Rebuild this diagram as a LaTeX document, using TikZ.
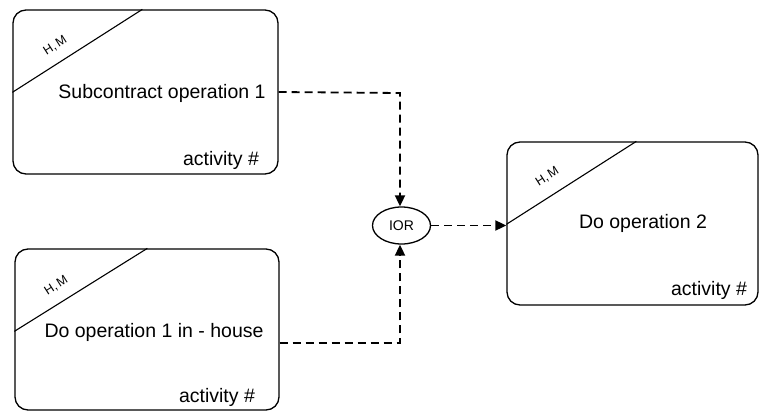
\documentclass[tikz,border=0pt]{standalone}
\usepackage{fontspec}
\setmainfont{Liberation Sans}
\usetikzlibrary{calc,arrows.meta,shapes.geometric}
\begin{document}
\begin{tikzpicture}[x=1pt,y=-1pt,
  actbox/.style={draw,line width=1.3pt,rounded corners=13pt,inner sep=0pt},
  maintext/.style={font=\fontsize{19.5}{21}\selectfont,inner sep=0pt},
  hmtext/.style={font=\fontsize{12.5}{13}\selectfont,inner sep=0pt,rotate=32.6},
  diag/.style={line width=1.1pt},
  flow/.style={line width=1.8pt,dash pattern=on 8pt off 5pt},
  tip/.style={-{Triangle[length=11pt,width=10pt]}}]
\useasboundingbox (0,0) rectangle (760,412);
% boxes
\node[actbox,minimum width=265pt,minimum height=164pt] (b1) at (145.5,92) {};
\node[actbox,minimum width=264pt,minimum height=161pt] (b2) at (147,329.5) {};
\node[actbox,minimum width=251pt,minimum height=163pt] (b3) at (632.5,223.5) {};
% diagonals
\draw[diag] ($(b1.north west)+(0,83)$) -- ($(b1.north west)+(130,0)$);
\draw[diag] ($(b2.north west)+(0,83)$) -- ($(b2.north west)+(133,0)$);
\draw[diag] ($(b3.north west)+(0,83)$) -- ($(b3.north west)+(130,0)$);
% H, M labels
\node[hmtext] (hm1) at ($(b1.north west)+(43,36)$) {H,\kern2pt M};
\node[hmtext] (hm2) at ($(b2.north west)+(42,37)$) {H,\kern2pt M};
\node[hmtext] (hm3) at ($(b3.north west)+(41,35)$) {H,\kern2pt M};
% texts
\node[maintext] (t1) at (162,93) {Subcontract operation 1};
\node[maintext] (a1) at (221,160) {activity \#};
\node[maintext] (t2) at (154,332) {Do operation 1 in - house};
\node[maintext] (a2) at (217,397) {activity \#};
\node[maintext] (t3) at (643,223) {Do operation 2};
\node[maintext] (a3) at (709,290) {activity \#};
% IOR
\node[draw,ellipse,line width=1.3pt,minimum width=58pt,minimum height=37pt,inner sep=0pt,font=\fontsize{14}{15}\selectfont] (ior) at (401.5,225.5) {IOR};
% connectors
\coordinate (c1) at (400,93);
\coordinate (c2) at (400,343);
\draw[flow,tip] (b1.east) -- (c1) -- (c1 |- ior.north);
\draw[flow,tip] ([yshift=-13.5pt]b2.east) -- (c2) -- (c2 |- ior.south);
\draw[flow,tip] (ior.east) -- (ior.east -| b3.west);
\end{tikzpicture}
\end{document}
